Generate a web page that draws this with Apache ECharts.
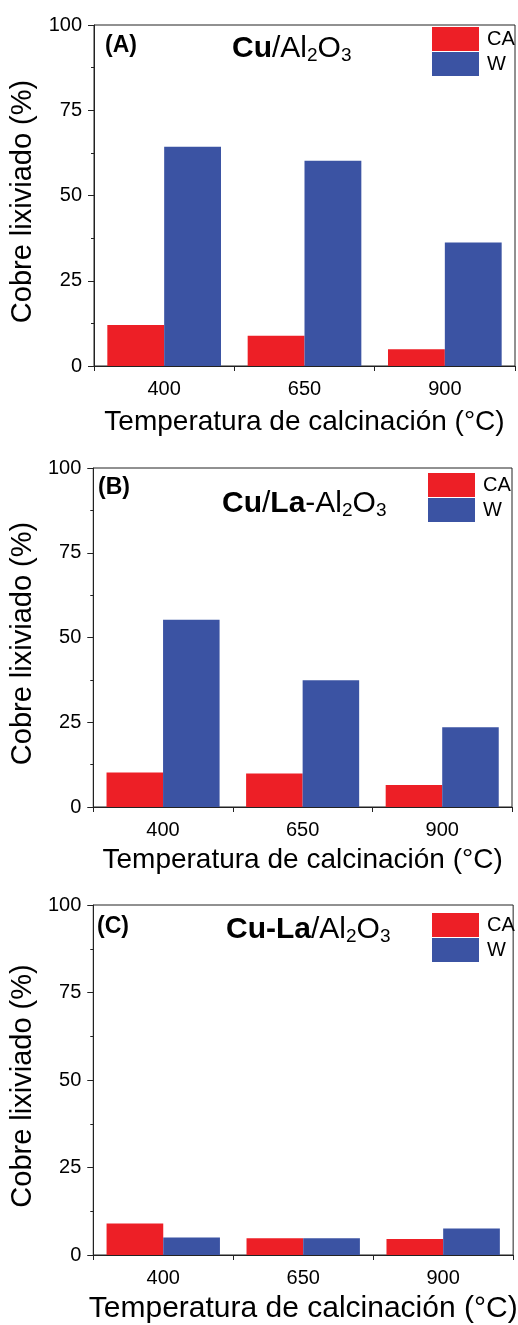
<!DOCTYPE html>
<html>
<head>
<meta charset="utf-8">
<script src="https://cdn.jsdelivr.net/npm/echarts@6/dist/echarts.min.js"></script>
<style>
html,body{margin:0;padding:0;background:#fff;}
#chart{width:518px;height:1325px;}
</style>
</head>
<body>
<div id="chart"></div>
<script>
// Data
var categories = ['400', '650', '900'];
var yTicks = [0, 25, 50, 75, 100];
var caA = [12.0, 8.9, 4.9];
var wA  = [64.3, 60.2, 36.2];
var caB = [10.2, 9.9, 6.5];
var wB  = [55.2, 37.4, 23.5];
var caC = [9.0, 4.8, 4.6];
var wC  = [5.0, 4.8, 7.6];

var FONT = 'Liberation Sans, Arial, Helvetica, sans-serif';
var RED = '#ED1F26';
var BLUE = '#3B53A3';
var AX = '#222';

var grids = [
  {left: 94, top: 25, width: 421, height: 341},
  {left: 92, top: 468, width: 420, height: 339},
  {left: 90, top: 905, width: 435, height: 351}
];
var xNameGap = [42, 39, 39];
var xNameSize = [28, 28, 30];
var yNameSize = [29, 29, 29];

function xAxisFor(i) {
  return {
    type: 'category', gridIndex: i, data: categories,
    name: 'Temperatura de calcinación (°C)', nameLocation: 'middle',
    nameGap: xNameGap[i],
    nameTextStyle: {fontFamily: FONT, fontSize: xNameSize[i], color: '#000'},
    axisLine: {lineStyle: {color: AX, width: 1}},
    axisTick: {show: true, length: 5, lineStyle: {color: AX}},
    axisLabel: {fontFamily: FONT, fontSize: 20, color: '#000', margin: 13},
    splitLine: {show: false}
  };
}
function yAxisFor(i) {
  return {
    type: 'value', gridIndex: i, min: yTicks[0], max: yTicks[yTicks.length - 1],
    interval: yTicks[1] - yTicks[0],
    name: 'Cobre lixiviado (%)', nameLocation: 'middle', nameRotate: 90, nameGap: 42,
    nameTextStyle: {fontFamily: FONT, fontSize: yNameSize[i], color: '#000', padding: [0, 12, 0, 0]},
    axisLine: {show: true, lineStyle: {color: AX, width: 1}},
    axisTick: {show: true, length: 6, lineStyle: {color: AX}},
    minorTick: {show: true, splitNumber: 2, length: 3, lineStyle: {color: AX}},
    axisLabel: {fontFamily: FONT, fontSize: 20, color: '#000', margin: 12},
    splitLine: {show: false}
  };
}
function barSeries(name, data, i, color) {
  return {
    type: 'bar', name: name, data: data, xAxisIndex: i, yAxisIndex: i,
    barGap: '0%', barCategoryGap: '19%',
    itemStyle: {color: color},
    emphasis: {disabled: true},
    animation: false
  };
}
var rich = {
  b: {fontFamily: FONT, fontSize: 30, fontWeight: 'bold', color: '#000'},
  n: {fontFamily: FONT, fontSize: 30, fontWeight: 'normal', color: '#000'},
  s: {fontFamily: FONT, fontSize: 19, fontWeight: 'normal', color: '#000', padding: [14, 0, 0, 0]}
};
function titleAt(text, left, top) {
  return {text: text, left: left, top: top, padding: 0,
    textStyle: {rich: rich, fontFamily: FONT, fontSize: 30, fontWeight: 'normal', color: '#000'}};
}
function tagAt(text, left, top) {
  return {text: text, left: left, top: top, padding: 0,
    textStyle: {fontFamily: FONT, fontSize: 23, fontWeight: 'bold', color: '#000'}};
}
function legendAt(left, top) {
  return {
    orient: 'vertical', left: left, top: top, padding: 0,
    itemWidth: 47, itemHeight: 24, itemGap: 1, icon: 'rect',
    data: ['CA', 'W'], selectedMode: false,
    textStyle: {fontFamily: FONT, fontSize: 20, color: '#000', padding: [0, 0, 0, 3]}
  };
}

var option = {
  backgroundColor: '#fff',
  animation: false,
  title: [
    titleAt('{b|Cu}{n|/Al}{s|2}{n|O}{s|3}', 232, 32),
    titleAt('{b|Cu}{n|/}{b|La}{n|-Al}{s|2}{n|O}{s|3}', 222, 487),
    titleAt('{b|Cu-La}{n|/Al}{s|2}{n|O}{s|3}', 226, 913),
    tagAt('(A)', 105, 34),
    tagAt('(B)', 98, 476),
    tagAt('(C)', 97, 915)
  ],
  legend: [legendAt(432, 27), legendAt(428, 473), legendAt(432, 913)],
  grid: grids.map(function (g) {
    return {left: g.left, top: g.top, width: g.width, height: g.height,
      show: true, borderColor: AX, borderWidth: 1, backgroundColor: 'transparent'};
  }),
  xAxis: [xAxisFor(0), xAxisFor(1), xAxisFor(2)],
  yAxis: [yAxisFor(0), yAxisFor(1), yAxisFor(2)],
  series: [
    barSeries('CA', caA, 0, RED), barSeries('W', wA, 0, BLUE),
    barSeries('CA', caB, 1, RED), barSeries('W', wB, 1, BLUE),
    barSeries('CA', caC, 2, RED), barSeries('W', wC, 2, BLUE)
  ]
};
var chart = echarts.init(document.getElementById('chart'), null, {renderer: 'canvas'});
chart.setOption(option);
</script>
</body>
</html>
